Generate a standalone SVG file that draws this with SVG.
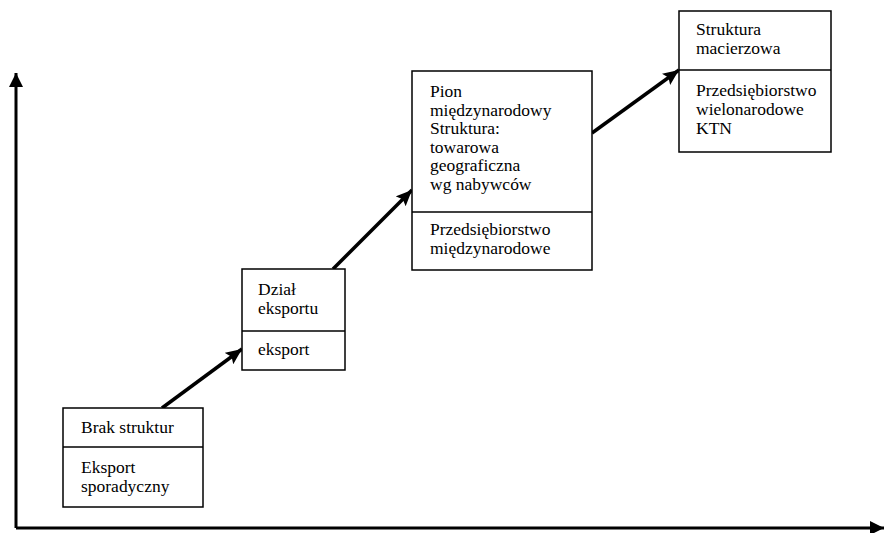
<svg xmlns="http://www.w3.org/2000/svg" width="885" height="533" viewBox="0 0 885 533">
<style>
.box{fill:#fff;stroke:#000;stroke-width:1.5}
.div{stroke:#000;stroke-width:1.5}
.conn{stroke:#000;stroke-width:3.5;fill:none}
.axis{stroke:#000;stroke-width:3;fill:none}
</style>
<defs>
<marker id="ah" markerUnits="userSpaceOnUse" markerWidth="20" markerHeight="20" refX="16" refY="7" orient="auto">
<polygon points="0,0 16,7 0,14 3,7" fill="#000"/>
</marker>
<marker id="ax" markerUnits="userSpaceOnUse" markerWidth="20" markerHeight="20" refX="14" refY="7" orient="auto">
<polygon points="0,0 14,7 0,14" fill="#000"/>
</marker>
</defs>
<g id="connectors">
<line class="axis" x1="16" y1="528" x2="16" y2="73" marker-end="url(#ax)"/>
<line class="axis" x1="16" y1="528" x2="884" y2="528" marker-end="url(#ax)"/>
<line class="conn" x1="162" y1="408" x2="242" y2="349" marker-end="url(#ah)"/>
<line class="conn" x1="333" y1="269" x2="412" y2="190" marker-end="url(#ah)"/>
<line class="conn" x1="592" y1="133" x2="679" y2="70" marker-end="url(#ah)"/>
</g>
<g font-family="Liberation Serif, Times New Roman, serif" font-size="16.5" fill="#000">
<g id="node1">
<rect class="box" x="63" y="408" width="140" height="99"/>
<line class="div" x1="63" y1="447" x2="203" y2="447"/>
<g transform="translate(81 0) scale(1.06 1)">
<text x="0" y="433">Brak struktur</text>
<text x="0" y="473">Eksport</text>
<text x="0" y="492">sporadyczny</text>
</g>
</g>
<g id="node2">
<rect class="box" x="242" y="269" width="103" height="101"/>
<line class="div" x1="242" y1="331" x2="345" y2="331"/>
<g transform="translate(258 0) scale(1.06 1)">
<text x="0" y="295">Dział</text>
<text x="0" y="314">eksportu</text>
<text x="0" y="355">eksport</text>
</g>
</g>
<g id="node3">
<rect class="box" x="412" y="71" width="180" height="199"/>
<line class="div" x1="412" y1="212" x2="592" y2="212"/>
<g transform="translate(430 0) scale(1.06 1)">
<text x="0" y="97">Pion</text>
<text x="0" y="115.6">międzynarodowy</text>
<text x="0" y="134.2">Struktura:</text>
<text x="0" y="152.8">towarowa</text>
<text x="0" y="171.4">geograficzna</text>
<text x="0" y="190">wg nabywców</text>
<text x="0" y="235">Przedsiębiorstwo</text>
<text x="0" y="254">międzynarodowe</text>
</g>
</g>
<g id="node4">
<rect class="box" x="679" y="11" width="152" height="141"/>
<line class="div" x1="679" y1="70" x2="831" y2="70"/>
<g transform="translate(696 0) scale(1.06 1)">
<text x="0" y="35">Struktura</text>
<text x="0" y="54">macierzowa</text>
<text x="0" y="96">Przedsiębiorstwo</text>
<text x="0" y="115">wielonarodowe</text>
<text x="0" y="134">KTN</text>
</g>
</g>
</g>
</svg>
